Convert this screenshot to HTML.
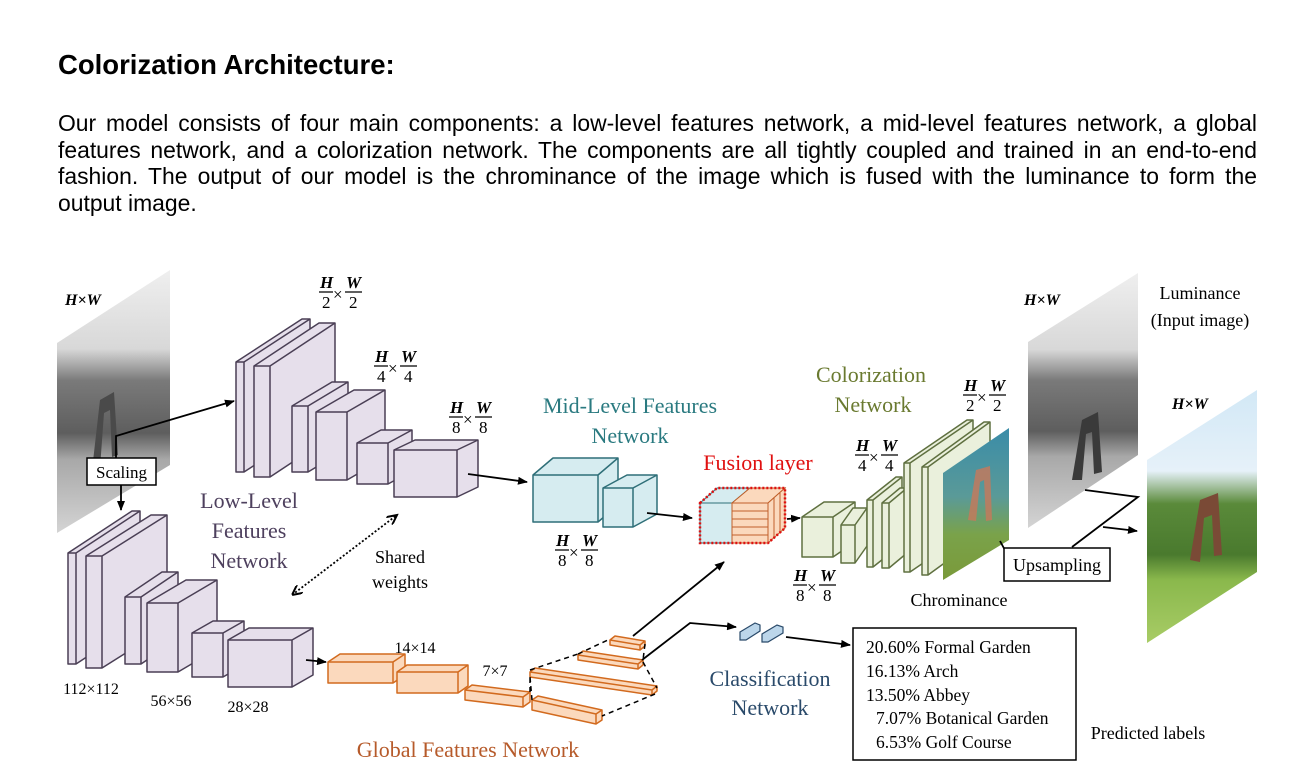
<!DOCTYPE html>
<html><head><meta charset="utf-8"><style>
body{margin:0;width:1313px;height:783px;background:#fff;position:relative;overflow:hidden;font-family:"Liberation Sans",sans-serif;}
h1{position:absolute;left:58px;top:49px;margin:0;font-size:27.5px;font-weight:bold;color:#000;}
p{position:absolute;left:58px;top:110px;width:1199px;margin:0;font-size:22.9px;line-height:26.6px;text-align:justify;color:#000;}
svg{position:absolute;left:0;top:0;}
svg text{font-family:"Liberation Serif",serif;}
</style></head><body>
<h1>Colorization Architecture:</h1>
<p>Our model consists of four main components: a low-level features network, a mid-level features network, a global features network, and a colorization network. The components are all tightly coupled and trained in an end-to-end fashion. The output of our model is the chrominance of the image which is fused with the luminance to form the output&nbsp;image.</p>
<svg width="1313" height="783" viewBox="0 0 1313 783">
<defs>
<marker id="ar" markerWidth="10" markerHeight="8" refX="9" refY="4" orient="auto" markerUnits="userSpaceOnUse"><path d="M0,0 L10,4 L0,8 z" fill="#000"/></marker>
<marker id="ao" markerWidth="12" markerHeight="10" refX="10" refY="5" orient="auto" markerUnits="userSpaceOnUse"><path d="M0,0 L10,5 L0,10" fill="none" stroke="#000" stroke-width="2"/></marker>
<marker id="as" markerWidth="12" markerHeight="10" refX="0" refY="5" orient="auto" markerUnits="userSpaceOnUse"><path d="M10,0 L0,5 L10,10" fill="none" stroke="#000" stroke-width="2"/></marker>
<linearGradient id="gray" x1="0" y1="0" x2="0" y2="1"><stop offset="0" stop-color="#efefef"/><stop offset="0.3" stop-color="#d8d8d8"/><stop offset="0.42" stop-color="#7a7a7a"/><stop offset="0.62" stop-color="#5e5e5e"/><stop offset="0.72" stop-color="#a8a8a8"/><stop offset="1" stop-color="#d4d4d4"/></linearGradient>
<linearGradient id="col" x1="0" y1="0" x2="0" y2="1"><stop offset="0" stop-color="#d2e8f6"/><stop offset="0.32" stop-color="#e6f1f9"/><stop offset="0.45" stop-color="#5a8a3a"/><stop offset="0.65" stop-color="#4a7a2e"/><stop offset="0.75" stop-color="#8ab84c"/><stop offset="1" stop-color="#a8cc66"/></linearGradient>
<linearGradient id="chr" x1="0" y1="0" x2="0" y2="1"><stop offset="0" stop-color="#3a8ca8"/><stop offset="0.45" stop-color="#5a9a98"/><stop offset="0.7" stop-color="#7aa24a"/><stop offset="1" stop-color="#7a9a3a"/></linearGradient>
</defs>

<polygon points="57,343 170,270 170,465 57,533" fill="url(#gray)"/>
<polygon points="92,470 100,400 114,392 118,455 112,457 110,410 104,413 100,468" fill="#4a4a4a"/>
<polygon points="1028,342 1138,273 1138,455 1028,528" fill="url(#gray)"/>
<polygon points="1147,460 1257,390 1257,572 1147,643" fill="url(#col)"/>
<polygon points="1190,560 1200,500 1218,493 1222,555 1214,556 1212,515 1204,518 1200,562" fill="#7a4a36"/>
<polygon points="1072,480 1082,420 1098,412 1102,472 1094,474 1092,432 1086,434 1082,480" fill="#3a3a3a"/>

<g fill="#e6dfeb" stroke="#4a3f55" stroke-width="1.5" stroke-linejoin="round">
<polygon points="236,362 302,319 310,319 310,429 244,472 236,472"/><path d="M236 362H244V472M244 362L310 319" fill="none"/>
<polygon points="254,366 319,323 335,323 335,434 270,477 254,477"/><path d="M254 366H270V477M270 366L335 323" fill="none"/>
<polygon points="292,406 332,382 348,382 348,448 308,472 292,472"/><path d="M292 406H308V472M308 406L348 382" fill="none"/>
<polygon points="316,412 354,390 385,390 385,458 347,480 316,480"/><path d="M316 412H347V480M347 412L385 390" fill="none"/>
<polygon points="357,443 381,430 412,430 412,471 388,484 357,484"/><path d="M357 443H388V484M388 443L412 430" fill="none"/>
<polygon points="394,450 415,440 478,440 478,487 457,497 394,497"/><path d="M394 450H457V497M457 450L478 440" fill="none"/>
<polygon points="68,553 132,511 140,511 140,622 76,664 68,664"/><path d="M68 553H76V664M76 553L140 511" fill="none"/>
<polygon points="86,556 151,515 167,515 167,627 102,668 86,668"/><path d="M86 556H102V668M102 556L167 515" fill="none"/>
<polygon points="125,597 162,572 178,572 178,639 141,664 125,664"/><path d="M125 597H141V664M141 597L178 572" fill="none"/>
<polygon points="147,603 186,580 217,580 217,649 178,672 147,672"/><path d="M147 603H178V672M178 603L217 580" fill="none"/>
<polygon points="192,633 213,621 244,621 244,665 223,677 192,677"/><path d="M192 633H223V677M223 633L244 621" fill="none"/>
<polygon points="228,640 249,628 313,628 313,675 292,687 228,687"/><path d="M228 640H292V687M292 640L313 628" fill="none"/>
</g>

<g fill="#d6ecf0" stroke="#2f6f78" stroke-width="1.5" stroke-linejoin="round">
<polygon points="533,475 553,458 618,458 618,505 598,522 533,522"/><path d="M533 475H598V522M598 475L618 458" fill="none"/>
<polygon points="603,488 627,475 657,475 657,514 633,527 603,527"/><path d="M603 488H633V527M633 488L657 475" fill="none"/>
</g>

<g stroke-width="1">
<polygon points="700,503 717,488 750,488 732,503" fill="#d6ecf0" stroke="#2f6f78"/>
<rect x="700" y="503" width="32" height="40" fill="#d6ecf0" stroke="#2f6f78"/>
<polygon points="732,503 750,488 785,488 768,503" fill="#fbd9bd" stroke="#c0602a"/>
<rect x="732" y="503" width="36" height="40" fill="#fbd9bd" stroke="#c0602a"/>
<polygon points="768,503 785,488 785,528 768,543" fill="#fbd9bd" stroke="#c0602a"/>
<path d="M732 511H768M732 519H768M732 527H768M732 535H768M774 498V538M780 493V533" stroke="#c0602a" fill="none"/>
<polygon points="700,503 717,488 785,488 785,528 768,543 700,543" fill="none" stroke="#e01010" stroke-width="2.5" stroke-dasharray="2,2"/>
</g>

<g fill="#eaf0dc" stroke="#5f7040" stroke-width="1.5" stroke-linejoin="round">
<polygon points="802,517 824,502 855,502 855,542 833,557 802,557"/><path d="M802 517H833V557M833 517L855 502" fill="none"/>
<polygon points="841,525 853,508 867,508 867,546 855,563 841,563"/><path d="M841 525H855V563M855 525L867 508" fill="none"/>
<polygon points="867,500 896,477 902,477 902,544 873,567 867,567"/><path d="M867 500H873V567M873 500L902 477" fill="none"/>
<polygon points="882,503 900,488 907,488 907,553 889,568 882,568"/><path d="M882 503H889V568M889 503L907 488" fill="none"/>
<polygon points="904,463 967,420 973,420 973,529 910,572 904,572"/><path d="M904 463H910V572M910 463L973 420" fill="none"/>
<polygon points="922,467 984,422 990,422 990,530 928,575 922,575"/><path d="M922 467H928V575M928 467L990 422" fill="none"/>
</g>
<polygon points="943,473 1009,428 1009,540 943,580" fill="url(#chr)"/>
<path d="M968 520 L976 470 L990 466 L992 520 L986 521 L984 480 L980 482 L976 521z" fill="#c8785a" opacity="0.8"/>

<g fill="#fbd9bd" stroke="#d26a1e" stroke-width="1.5" stroke-linejoin="round">
<polygon points="328,662 340,654 405,654 405,675 393,683 328,683"/><path d="M328 662H393V683M393 662L405 654" fill="none"/>
<polygon points="397,672 407,665 468,665 468,686 458,693 397,693"/><path d="M397 672H458V693M458 672L468 665" fill="none"/>
<polygon points="465,690 472,685 530,692 530,702 523,707 465,700"/><path d="M465 690L523 697V707M523 697L530 692" fill="none"/>
<polygon points="532,700 538,696 602,710 602,720 596,724 532,710"/><path d="M532 700L596 714V724M596 714L602 710" fill="none"/>
<polygon points="530,672 535,668 657,686 657,691 652,695 530,677"/><path d="M530 672L652 690V695M652 690L657 686" fill="none"/>
<polygon points="578,655 583,651 643,660 643,665 638,669 578,660"/><path d="M578 655L638 664V669M638 664L643 660" fill="none"/>
<polygon points="610,640 615,636 645,641 645,646 640,650 610,645"/><path d="M610 640L640 645V650M640 645L645 641" fill="none"/>
</g>
<g fill="none" stroke="#000" stroke-width="1.5" stroke-dasharray="5,4">
<path d="M530 692L530 677M532 700L530 677M530 670L578 654M578 654L610 639M645 644L643 660M643 662L657 688M655 694L602 716"/>
</g>
<g fill="#bcd6ea" stroke="#2a4a6a" stroke-width="1.2">
<polygon points="740,632 755,623 760,625 760,631 746,640 740,640"/>
<polygon points="762,634 777,625 783,627 783,633 768,642 762,642"/>
</g>

<g fill="none" stroke="#000" stroke-width="1.8">
<path d="M116 458L116 436L234 401" marker-end="url(#ar)"/>
<path d="M121 485V510" marker-end="url(#ar)"/>
<path d="M468 474L527 482" marker-end="url(#ar)"/>
<path d="M647 513L692 518" marker-end="url(#ar)"/>
<path d="M787 519L800 518" marker-end="url(#ar)"/>
<path d="M306 660L326 662" marker-end="url(#ar)"/>
<path d="M633 636L724 562" marker-end="url(#ar)"/>
<path d="M642 660L690 623L736 627" marker-end="url(#ar)"/>
<path d="M786 637L850 645" marker-end="url(#ar)"/>
<path d="M1085 490L1138 497L1072 547"/>
<path d="M1103 527L1137 531" marker-end="url(#ar)"/>
<path d="M1000 541L1006 552"/>
<path d="M292 595L397 515" stroke-dasharray="2,2" marker-end="url(#ao)" marker-start="url(#as)"/>
</g>

<rect x="87" y="458" width="69" height="27" fill="#fff" stroke="#000" stroke-width="1.5"/>
<text x="121.5" y="478" font-size="17" text-anchor="middle">Scaling</text>
<rect x="1004" y="548" width="106" height="33" fill="#fff" stroke="#000" stroke-width="1.5"/>
<text x="1057" y="571" font-size="18" text-anchor="middle">Upsampling</text>
<rect x="853" y="628" width="223" height="132" fill="#fff" stroke="#000" stroke-width="1.5"/>
<g font-size="17.5">
<text x="866" y="653">20.60% Formal Garden</text>
<text x="866" y="677">16.13% Arch</text>
<text x="866" y="701">13.50% Abbey</text>
<text x="876" y="724">7.07% Botanical Garden</text>
<text x="876" y="748">6.53% Golf Course</text>
</g>

<g font-size="22" text-anchor="middle">
<text x="249" y="508" fill="#4e405e">Low-Level</text>
<text x="249" y="538" fill="#4e405e">Features</text>
<text x="249" y="568" fill="#4e405e">Network</text>
<text x="630" y="413" fill="#2a7a80">Mid-Level Features</text>
<text x="630" y="443" fill="#2a7a80">Network</text>
<text x="758" y="470" fill="#e01010">Fusion layer</text>
<text x="871" y="382" fill="#6a7a30">Colorization</text>
<text x="873" y="412" fill="#6a7a30">Network</text>
<text x="468" y="757" fill="#b65a2a">Global Features Network</text>
<text x="770" y="686" fill="#2a4a6a">Classification</text>
<text x="770" y="715" fill="#2a4a6a">Network</text>
</g>
<g font-size="18" text-anchor="middle">
<text x="400" y="563">Shared</text>
<text x="400" y="588">weights</text>
<text x="959" y="606">Chrominance</text>
<text x="1200" y="299">Luminance</text>
<text x="1200" y="326">(Input image)</text>
<text x="1148" y="739">Predicted labels</text>
<text x="415" y="653" font-size="16">14×14</text>
<text x="495" y="676" font-size="16">7×7</text>
<text x="91" y="694" font-size="16">112×112</text>
<text x="171" y="706" font-size="16">56×56</text>
<text x="248" y="712" font-size="16">28×28</text>
</g>
<g font-size="16" font-style="italic" font-weight="bold">
<text x="65" y="305">H×W</text>
<text x="1024" y="305">H×W</text>
<text x="1172" y="409">H×W</text>
</g>

<g font-size="17">
<g transform="translate(320,288)"><text x="0" y="0" font-style="italic" font-weight="bold">H</text><path d="M-1 4H13M25 4H42" stroke="#000" stroke-width="1.2"/><text x="2" y="20">2</text><text x="13" y="12">×</text><text x="26" y="0" font-style="italic" font-weight="bold">W</text><text x="29" y="20">2</text></g>
<g transform="translate(375,362)"><text x="0" y="0" font-style="italic" font-weight="bold">H</text><path d="M-1 4H13M25 4H42" stroke="#000" stroke-width="1.2"/><text x="2" y="20">4</text><text x="13" y="12">×</text><text x="26" y="0" font-style="italic" font-weight="bold">W</text><text x="29" y="20">4</text></g>
<g transform="translate(450,413)"><text x="0" y="0" font-style="italic" font-weight="bold">H</text><path d="M-1 4H13M25 4H42" stroke="#000" stroke-width="1.2"/><text x="2" y="20">8</text><text x="13" y="12">×</text><text x="26" y="0" font-style="italic" font-weight="bold">W</text><text x="29" y="20">8</text></g>
<g transform="translate(556,546)"><text x="0" y="0" font-style="italic" font-weight="bold">H</text><path d="M-1 4H13M25 4H42" stroke="#000" stroke-width="1.2"/><text x="2" y="20">8</text><text x="13" y="12">×</text><text x="26" y="0" font-style="italic" font-weight="bold">W</text><text x="29" y="20">8</text></g>
<g transform="translate(964,391)"><text x="0" y="0" font-style="italic" font-weight="bold">H</text><path d="M-1 4H13M25 4H42" stroke="#000" stroke-width="1.2"/><text x="2" y="20">2</text><text x="13" y="12">×</text><text x="26" y="0" font-style="italic" font-weight="bold">W</text><text x="29" y="20">2</text></g>
<g transform="translate(856,451)"><text x="0" y="0" font-style="italic" font-weight="bold">H</text><path d="M-1 4H13M25 4H42" stroke="#000" stroke-width="1.2"/><text x="2" y="20">4</text><text x="13" y="12">×</text><text x="26" y="0" font-style="italic" font-weight="bold">W</text><text x="29" y="20">4</text></g>
<g transform="translate(794,581)"><text x="0" y="0" font-style="italic" font-weight="bold">H</text><path d="M-1 4H13M25 4H42" stroke="#000" stroke-width="1.2"/><text x="2" y="20">8</text><text x="13" y="12">×</text><text x="26" y="0" font-style="italic" font-weight="bold">W</text><text x="29" y="20">8</text></g>
</g>
</svg>
</body></html>
